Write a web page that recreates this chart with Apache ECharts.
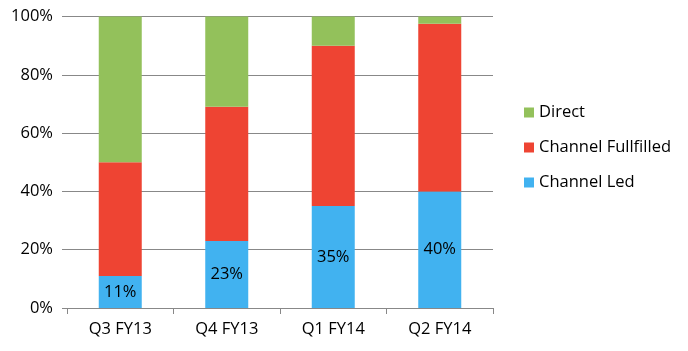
<!DOCTYPE html>
<html>
<head>
<meta charset="utf-8">
<script src="https://cdn.jsdelivr.net/npm/echarts@6/dist/echarts.min.js"></script>
<style>
    html, body { margin: 0; padding: 0; background: #fff; }
    #chart { width: 688px; height: 351px; }
</style>
</head>
<body>
<div id="chart"></div>
<script type="application/javascript">
    var quarters = ['Q3 FY13', 'Q4 FY13', 'Q1 FY14', 'Q2 FY14'];
    var channelLed = [11, 23, 35, 40];
    var channelFulfilled = [39, 46, 55, 57.5];
    var direct = [50, 31, 10, 2.5];

    var font = '"Open Sans", Lato, sans-serif';
    var chart = echarts.init(document.getElementById('chart'));

    var option = {};
    option.animation = false;
    option.textStyle = { fontFamily: font };
    option.grid = { left: 67, right: 195, top: 16.5, bottom: 43 };
    option.legend = {
        orient: 'vertical',
        left: 519,
        top: 99,
        itemWidth: 10,
        itemHeight: 10,
        itemGap: 18,
        icon: 'rect',
        textStyle: { fontSize: 16.5, color: '#000', fontFamily: font },
        data: ['Direct', 'Channel Fullfilled', 'Channel Led']
    };
    option.xAxis = {
        type: 'category',
        data: quarters,
        axisLine: { lineStyle: { color: '#888', width: 1 } },
        axisTick: { show: true, length: 6, lineStyle: { color: '#888' } },
        axisLabel: { color: '#000', fontSize: 16.5, margin: 13, fontFamily: font }
    };
    option.yAxis = {
        type: 'value',
        min: 0,
        max: 100,
        interval: 20,
        axisLine: { show: false },
        axisTick: { show: true, length: 5, lineStyle: { color: '#888' } },
        splitLine: { lineStyle: { color: '#888', width: 1 } },
        axisLabel: { color: '#000', fontSize: 16.5, margin: 14, fontFamily: font, formatter: '{value}%' }
    };
    option.series = [
        {
            name: 'Channel Led',
            type: 'bar',
            stack: 'total',
            barWidth: 43,
            data: channelLed,
            itemStyle: { color: '#41B2F0' },
            label: { show: true, position: 'inside', formatter: '{c}%', color: '#000', fontSize: 16.5, fontFamily: font }
        },
        {
            name: 'Channel Fullfilled',
            type: 'bar',
            stack: 'total',
            barWidth: 43,
            data: channelFulfilled,
            itemStyle: { color: '#EE4433' }
        },
        {
            name: 'Direct',
            type: 'bar',
            stack: 'total',
            barWidth: 43,
            data: direct,
            itemStyle: { color: '#93C15B' }
        }
    ];
    chart.setOption(option);
</script>
</body>
</html>
